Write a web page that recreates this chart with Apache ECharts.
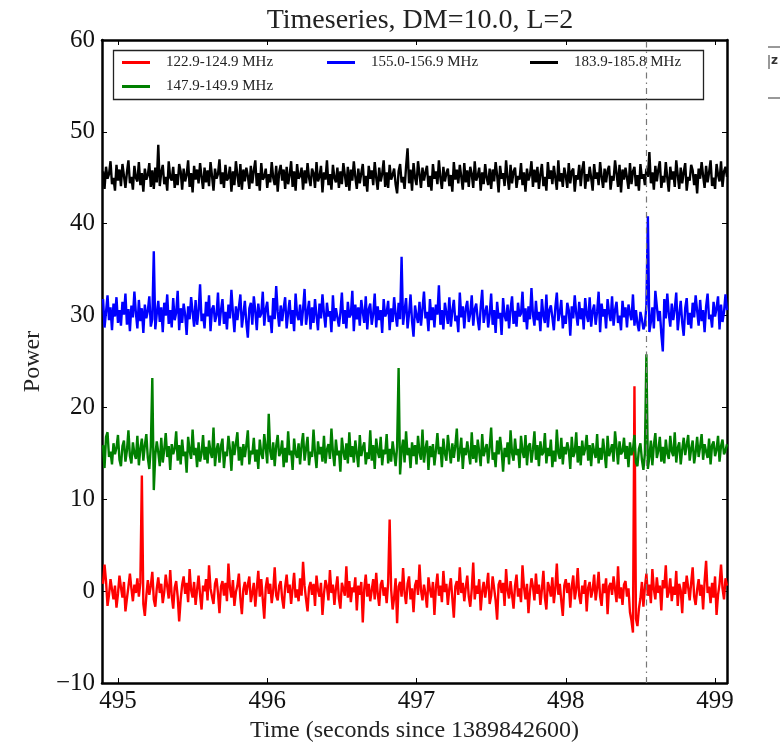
<!DOCTYPE html>
<html>
<head>
<meta charset="utf-8">
<script src="https://cdn.jsdelivr.net/npm/echarts@6/dist/echarts.min.js"></script>
<style>html,body{margin:0;padding:0;background:#fff}#c{width:780px;height:748px}</style>
</head>
<body>
<div id="c"></div>
<script>
// Sampling grid of the time series (seconds since 1389842600)
var SAMPLE_START = 494.90;
var SAMPLE_STEP = 0.01;
var xTicks = [495, 496, 497, 498, 499];
var yTicks = [-10, 0, 10, 20, 30, 40, 50, 60];
var seriesNames = ['122.9-124.9 MHz', '147.9-149.9 MHz', '155.0-156.9 MHz', '183.9-185.8 MHz'];
var seriesColors = ['#ff0000', '#008000', '#0000ff', '#000000'];
var eventTime = 498.537;

var red = [
0.8, 2.9, 1.1, -1.6, -0.4, 1.3, 0.2, -0.9, 0.6, -1.8,
-0.3, 1.7, 0.4, -0.7, 1.0, -2.2, -0.8, 0.5, 1.9, 0.3,
-1.1, 0.7, -0.2, 1.4, -0.6, 0.9, 12.6, -1.4, -2.7, -0.5,
1.2, -0.4, 0.6, 2.1, -0.9, -1.7, 0.3, 1.5, -0.2, 0.8,
-1.3, -0.1, 1.8, 0.5, -0.8, 2.3, -0.5, -1.9, 0.4, 1.1,
-0.6, -3.3, -0.9, 0.7, 1.6, -0.3, 0.9, -1.2, 2.4, 0.1,
-0.7, 1.0, -1.5, 0.2, 1.7, -0.4, -2.0, 0.6, 0.0, 1.3,
-1.0, 2.8, 0.3, -0.6, -1.4, 0.8, 1.4, -0.2, -2.4, 0.5,
1.1, -0.5, 0.9, -1.1, 3.0, 0.4, -0.7, 1.2, -1.6, -0.1,
0.6, 1.9, -0.8, -2.5, 0.2, 1.0, -0.4, 0.7, 1.6, -1.2,
-0.2, 0.9, -1.7, 0.3, 2.2, -0.6, 1.3, -0.9, -3.0, 0.4,
1.5, -0.3, 0.8, -1.3, 0.1, 2.6, -0.5, -1.0, 0.6, 1.1,
-0.8, -1.9, 0.5, 1.8, -0.2, 0.7, -1.4, 0.3, 2.0, -0.7,
0.2, -1.1, 1.4, -0.5, 3.2, 0.6, -0.9, -2.2, 0.4, 1.0,
-0.4, 0.8, -1.6, 1.7, 0.1, -0.6, 0.9, -2.6, -0.3, 1.2,
0.5, -1.0, 2.3, -0.2, 0.7, -1.5, 0.3, 1.6, -0.8, -1.9,
0.9, 0.2, -0.5, 2.7, -0.7, 1.1, -1.2, 0.4, -0.1, 1.5,
-2.1, 0.6, -0.4, 1.0, -3.4, 0.3, 1.8, -0.6, 0.8, -1.1,
0.1, 1.3, -0.9, 2.0, -0.3, -1.6, 0.7, 1.2, -0.5, 0.4,
-1.3, 0.9, 7.8, 0.2, -2.0, -0.7, 1.4, -3.5, 0.5, 1.0,
-0.6, 2.5, -0.2, -1.4, 0.8, 1.6, -0.9, 0.3, -2.3, 0.6,
1.2, -0.4, 2.9, 0.1, -1.0, 0.7, -0.3, -1.8, 1.5, 0.2,
-0.7, 1.0, -2.6, 0.4, 1.9, -0.5, 0.6, -1.2, 2.2, -0.1,
0.8, -1.5, 0.3, 1.4, -0.8, -2.9, 0.5, 1.1, -0.4, 2.6,
-0.2, 0.9, -1.1, 0.4, 1.7, -0.6, -1.7, 0.2, 3.1, -0.9,
0.6, -0.3, 1.3, -2.1, 0.0, 1.0, -0.7, 0.5, 2.0, -1.4,
-0.5, 1.6, 0.3, -1.0, -3.1, 0.7, 1.2, -0.2, 0.9, -1.6,
2.4, 0.1, -0.8, 1.1, -0.4, -1.9, 0.6, 1.8, -0.6, 0.3,
-1.2, 2.8, 0.4, -0.9, 0.8, -2.4, -0.1, 1.4, 0.5, -1.0,
1.9, -0.3, 0.7, -1.5, 0.2, 2.2, -0.7, -2.0, 1.0, 0.4,
-0.6, 1.5, -1.3, 0.3, 3.0, -0.4, 0.8, -1.1, -2.7, 0.6,
1.3, -0.2, 0.9, -1.8, 0.5, 1.7, -0.9, 0.2, 2.5, -0.5,
-1.4, 0.6, -0.3, 1.2, -2.2, 0.4, 1.0, -0.7, 0.1, 1.8,
-1.0, 0.3, 2.1, -0.6, -1.6, 0.8, -0.2, 1.4, -2.5, 0.5,
0.9, -0.4, 1.6, 0.2, -1.2, 2.7, -0.8, 0.4, -1.5, 0.7,
1.1, -0.6, 0.3, -2.3, -3.2, -4.5, 22.3, -3.0, -3.8, -1.9,
-0.8, 1.0, -1.7, 0.4, 1.9, -0.5, 0.7, -1.3, 2.4, 0.2,
-0.9, 1.5, -0.2, 0.6, -2.1, 1.2, 0.3, 2.8, -0.7, -0.1,
1.4, -1.1, 0.5, -0.4, 2.2, -1.6, 0.8, 0.1, -2.4, 1.0,
-0.3, 1.7, 0.4, -1.0, 0.9, 2.6, -0.6, -1.5, 0.2, 1.3,
-0.5, 0.7, -2.0, 1.1, 3.3, -0.2, 0.5, -1.3, 0.9, -0.7,
1.6, -2.6, -0.4, 0.8, 2.9, 0.3, -0.9, 1.4, 0.6
];
var green = [
15.9, 13.4, 16.8, 17.3, 14.6, 15.2, 13.8, 16.1, 14.9, 15.6,
17.0, 14.3, 13.6, 15.8, 16.4, 14.1, 15.3, 17.5, 14.7, 13.9,
16.2, 15.0, 14.4, 16.9, 13.7, 15.5, 16.6, 14.2, 15.9, 17.1,
14.5, 13.3, 15.7, 23.2, 11.0, 14.8, 16.3, 15.1, 13.6, 16.7,
14.0, 15.4, 17.2, 14.6, 15.8, 13.2, 16.0, 14.9, 15.5, 17.4,
14.2, 15.9, 13.8, 16.5, 14.7, 15.2, 12.9, 16.8, 15.3, 14.4,
17.6, 14.8, 15.6, 13.5, 16.2, 14.1, 15.0, 17.0, 14.3, 15.7,
13.9, 16.4, 15.1, 14.5, 17.8, 13.6, 15.4, 16.1, 14.0, 15.8,
16.6, 13.4, 15.2, 14.7, 16.9, 15.5, 13.1, 16.3, 14.8, 15.0,
17.3, 14.2, 15.7, 13.7, 16.0, 14.6, 15.9, 17.5, 13.8, 15.3,
14.9, 16.7, 14.1, 15.4, 13.3, 16.5, 15.0, 14.4, 17.1, 15.6,
13.9, 19.3, 15.2, 14.3, 16.2, 13.6, 15.8, 17.0, 14.7, 15.1,
16.4, 13.5, 15.6, 14.0, 17.4, 14.8, 15.3, 13.2, 16.6, 15.0,
14.5, 16.1, 13.8, 15.9, 17.2, 14.2, 15.5, 16.8, 13.7, 15.2,
14.6, 17.6, 15.0, 13.4, 16.3, 14.9, 15.7, 14.1, 16.9, 13.9,
15.4, 16.0, 14.4, 17.7, 15.1, 13.6, 16.5, 14.8, 15.3, 13.0,
16.7, 15.2, 14.3, 16.1, 13.9, 17.3, 14.6, 15.8, 14.0, 16.4,
15.0, 13.5, 17.0, 14.7, 15.6, 16.2, 13.8, 15.1, 14.4, 17.5,
14.2, 15.9, 13.3, 16.6, 15.2, 14.5, 16.8, 13.7, 15.4, 14.9,
17.1, 13.9, 15.5, 14.1, 16.3, 15.0, 13.6, 15.7, 24.3, 12.7,
15.3, 16.5, 14.0, 17.4, 14.8, 15.6, 13.4, 16.2, 14.7, 15.9,
13.8, 16.9, 15.1, 14.3, 17.6, 14.0, 15.5, 16.4, 13.2, 15.8,
14.6, 16.0, 13.7, 15.3, 17.2, 14.9, 15.7, 13.5, 16.6, 15.0,
14.2, 17.0, 15.4, 13.9, 16.1, 14.5, 15.8, 17.7, 14.1, 15.2,
16.7, 13.3, 15.6, 14.8, 16.3, 15.0, 13.8, 17.3, 14.4, 15.9,
14.0, 16.5, 15.2, 13.6, 17.1, 14.7, 15.4, 16.0, 13.9, 15.7,
17.8, 14.3, 15.1, 13.5, 16.4, 14.9, 16.8, 15.3, 13.0, 15.6,
14.6, 16.2, 13.8, 17.5, 15.0, 14.2, 16.6, 14.8, 15.5, 13.4,
16.9, 15.2, 14.5, 17.0, 13.7, 15.8, 16.1, 14.0, 15.4, 17.4,
14.3, 15.9, 13.6, 16.3, 14.8, 15.1, 17.2, 13.9, 15.6, 14.7,
16.5, 13.5, 15.3, 14.1, 17.6, 15.0, 14.4, 16.7, 13.8, 15.7,
14.9, 16.2, 15.4, 13.3, 16.8, 14.6, 15.1, 17.3, 14.0, 15.8,
13.7, 16.4, 14.8, 15.5, 17.0, 14.2, 15.9, 13.6, 16.1, 15.2,
14.5, 17.1, 13.9, 15.6, 14.3, 16.6, 15.0, 13.4, 16.9, 14.7,
15.3, 16.0, 14.1, 17.4, 15.7, 13.8, 16.3, 14.9, 15.2, 16.7,
14.4, 15.8, 13.5, 16.2, 14.8, 15.4, 17.0, 14.0, 13.6, 15.5,
16.1, 14.3, 13.2, 15.0, 25.8, 13.3, 14.6, 16.4, 13.7, 15.9,
17.2, 14.5, 15.3, 16.8, 14.1, 15.7, 13.9, 16.5, 15.0, 14.4,
16.9, 15.2, 14.7, 17.3, 14.0, 15.6, 16.2, 13.8, 15.4, 16.7,
14.8, 15.9, 17.0, 14.2, 15.5, 16.4, 13.9, 15.1, 16.8, 14.6,
15.7, 17.1, 14.3, 16.0, 15.2, 14.5, 16.6, 13.8, 15.9, 16.3,
14.7, 15.4, 16.9, 14.1, 15.8, 16.5, 14.9, 15.3, 16.0
];
var blue = [
31.8, 28.7, 30.4, 32.2, 29.5, 30.9, 28.4, 31.3, 29.9, 32.0,
29.2, 30.6, 28.9, 31.5, 30.1, 32.4, 29.0, 30.7, 28.3, 31.1,
29.8, 32.6, 30.3, 28.6, 31.7, 29.4, 30.8, 28.1, 31.2, 29.7,
30.5, 32.1, 28.8, 29.6, 37.0, 28.5, 30.2, 31.6, 29.3, 30.9,
28.2, 31.4, 30.0, 32.3, 29.1, 30.6, 28.7, 31.9, 29.5, 30.3,
32.7, 28.4, 30.8, 29.2, 31.3, 30.1, 27.9, 31.0, 29.6, 32.0,
30.4, 28.8, 31.7, 29.0, 30.5, 33.4, 29.4, 30.2, 28.6, 31.5,
29.9, 32.2, 28.3, 30.7, 31.1, 29.3, 30.0, 32.5, 28.9, 30.6,
31.8, 29.1, 30.4, 28.5, 31.2, 29.7, 32.8, 30.3, 28.2, 31.0,
29.5, 30.9, 32.3, 28.7, 30.1, 31.6, 29.2, 27.6, 30.8, 31.4,
29.0, 32.1, 30.5, 28.4, 31.3, 29.8, 30.2, 32.6, 28.9, 30.7,
31.5, 29.3, 30.0, 28.1, 31.9, 29.6, 33.2, 30.4, 28.8, 31.1,
29.4, 30.8, 32.0, 28.6, 30.3, 31.7, 29.1, 30.6, 28.3, 32.4,
30.1, 29.5, 31.2, 28.9, 30.7, 32.9, 29.0, 30.4, 31.6, 28.5,
30.9, 29.2, 31.8, 30.0, 28.4, 31.3, 29.7, 32.3, 30.2, 28.7,
31.4, 29.9, 30.5, 28.2, 32.2, 29.4, 30.8, 31.0, 28.8, 30.3,
32.5, 29.1, 30.6, 28.6, 31.5, 29.8, 30.1, 32.7, 28.3, 31.2,
29.6, 30.9, 28.9, 31.7, 30.4, 29.2, 32.1, 28.5, 30.7, 31.3,
29.0, 30.2, 32.4, 28.7, 31.0, 29.5, 30.6, 28.1, 31.8, 29.9,
30.3, 31.6, 28.4, 30.8, 29.3, 32.0, 30.1, 28.8, 31.4, 29.6,
36.4, 29.0, 30.5, 31.9, 28.6, 30.2, 32.3, 29.4, 27.7, 31.1,
30.0, 29.2, 31.5, 28.9, 30.7, 32.6, 29.7, 30.4, 28.3, 31.8,
29.5, 30.9, 28.7, 31.2, 30.1, 33.3, 29.0, 30.6, 28.5, 31.4,
30.3, 29.1, 32.0, 28.8, 30.5, 31.7, 29.4, 30.0, 28.2, 32.5,
29.8, 31.0, 28.6, 30.8, 31.6, 29.3, 30.2, 32.2, 28.9, 30.7,
31.3, 29.6, 28.4, 30.9, 32.8, 29.2, 30.4, 31.1, 28.7, 30.1,
32.4, 29.0, 30.6, 28.1, 31.5, 29.7, 30.3, 27.9, 31.9, 30.0,
29.4, 31.2, 28.6, 30.7, 32.1, 29.1, 30.5, 28.8, 31.4, 29.9,
30.2, 32.6, 29.3, 30.8, 28.5, 31.0, 29.6, 33.0, 30.1, 28.9,
31.6, 29.5, 30.4, 28.3, 31.8, 30.0, 29.2, 32.3, 28.7, 30.6,
31.1, 29.8, 28.4, 30.9, 32.5, 29.4, 30.3, 31.7, 28.6, 30.0,
29.1, 31.4, 30.6, 27.8, 31.0, 29.7, 32.2, 30.2, 28.9, 31.5,
29.6, 30.8, 28.5, 31.9, 30.1, 29.3, 32.0, 28.8, 30.5, 31.2,
29.0, 30.4, 32.6, 28.2, 31.3, 29.9, 30.7, 28.6, 31.8, 30.3,
29.4, 32.1, 28.9, 30.6, 31.5, 29.2, 30.0, 28.4, 31.6, 29.8,
30.9, 28.7, 31.2, 30.2, 29.5, 32.3, 28.9, 30.6, 29.1, 28.3,
30.4, 29.6, 28.5, 29.0, 31.1, 40.8, 28.2, 29.3, 30.9, 28.6,
32.7, 31.0, 29.4, 30.5, 28.0, 26.1, 31.8, 29.7, 32.4, 30.2,
28.8, 31.3, 29.5, 30.7, 32.5, 28.4, 30.1, 31.6, 29.2, 27.8,
30.8, 31.9, 29.0, 30.3, 28.6, 31.4, 29.8, 32.2, 30.5, 28.9,
31.7, 29.4, 30.6, 28.2, 31.0, 32.4, 29.6, 30.1, 28.7, 31.5,
29.9, 30.8, 32.1, 28.5, 31.2, 29.3, 30.4, 32.3, 30.6
];
var black = [
45.7, 43.8, 46.2, 44.9, 45.4, 46.8, 44.3, 45.0, 43.6, 46.4,
44.7, 45.9, 44.1, 46.5, 45.2, 43.9, 45.6, 46.9, 44.4, 45.1,
43.7, 46.3, 45.0, 44.6, 46.7, 44.2, 45.5, 43.5, 46.0, 44.8,
45.3, 46.6, 44.0, 45.8, 43.8, 46.1, 44.5, 48.6, 44.1, 45.6,
46.4, 44.3, 45.1, 43.6, 46.8, 45.0, 44.7, 46.2, 43.9, 45.4,
44.2, 46.5, 45.7, 43.7, 46.0, 44.6, 45.3, 46.9, 44.0, 45.5,
43.4, 46.3, 44.8, 45.9, 44.4, 46.6, 45.1, 43.8, 46.1, 44.5,
45.8, 44.1, 46.7, 45.2, 43.6, 46.0, 44.9, 45.4, 47.0, 44.3,
45.6, 43.9, 46.4, 44.7, 45.0, 46.2, 43.5, 45.7, 44.2, 46.8,
45.3, 44.0, 46.5, 43.7, 45.9, 44.6, 46.1, 45.2, 43.8, 46.3,
44.4, 45.8, 46.9, 44.1, 45.5, 43.6, 46.6, 44.8, 45.1, 46.0,
43.9, 45.4, 44.5, 46.7, 45.0, 44.2, 46.3, 43.5, 45.6, 46.4,
44.7, 45.9, 43.8, 46.2, 44.3, 45.3, 46.8, 44.0, 45.7, 43.6,
46.5, 44.9, 45.2, 46.1, 43.7, 45.8, 44.4, 46.6, 45.0, 44.1,
46.0, 45.5, 43.9, 46.7, 44.6, 45.1, 46.3, 43.4, 45.6, 44.8,
46.9, 44.2, 45.4, 43.7, 46.4, 45.0, 44.5, 46.1, 43.9, 45.7,
44.3, 46.6, 45.3, 44.0, 46.2, 43.6, 45.9, 44.7, 46.8, 45.1,
43.8, 46.0, 44.4, 45.5, 46.5, 44.1, 45.2, 43.5, 46.3, 44.9,
45.8, 44.2, 46.7, 45.0, 43.7, 46.1, 44.6, 45.4, 46.9, 44.0,
45.6, 43.9, 46.4, 44.8, 45.3, 46.0, 44.3, 43.3, 45.7, 46.5,
44.5, 45.1, 43.8, 46.2, 48.2, 44.4, 45.9, 43.6, 46.6, 45.0,
44.2, 46.8, 45.4, 43.9, 46.1, 44.7, 45.6, 46.3, 44.0, 45.2,
43.6, 46.5, 44.9, 45.7, 44.3, 46.9, 45.0, 43.8, 46.2, 44.6,
45.5, 46.0, 44.1, 45.3, 43.5, 46.7, 44.8, 45.9, 44.4, 46.4,
45.1, 43.7, 46.6, 44.5, 45.8, 44.0, 46.2, 45.4, 43.9, 46.8,
44.7, 45.2, 46.1, 43.6, 45.6, 44.3, 46.5, 45.0, 44.2, 46.0,
43.8, 45.9, 44.6, 46.7, 45.3, 43.4, 46.3, 44.9, 45.5, 44.1,
46.9, 45.0, 43.7, 46.4, 44.4, 45.7, 46.1, 43.9, 45.2, 44.8,
46.6, 44.2, 45.6, 43.5, 46.0, 44.7, 45.3, 46.8, 44.0, 45.9,
44.5, 46.2, 43.8, 45.4, 46.5, 44.1, 45.1, 43.6, 46.7, 44.9,
45.8, 44.3, 46.3, 45.0, 43.7, 46.9, 44.6, 45.5, 44.0, 46.1,
45.2, 43.9, 46.6, 44.4, 45.7, 46.0, 43.5, 45.3, 44.8, 46.4,
44.1, 45.9, 46.8, 43.8, 45.4, 44.6, 46.2, 45.0, 43.6, 46.5,
44.9, 45.6, 44.2, 46.7, 45.1, 43.9, 46.0, 44.5, 45.8, 46.3,
43.7, 45.2, 44.7, 46.9, 45.5, 44.0, 46.4, 43.4, 45.9, 44.8,
46.1, 45.0, 43.8, 46.6, 44.3, 45.7, 46.2, 44.1, 45.3, 43.6,
46.5, 44.9, 45.4, 44.2, 46.0, 45.1, 47.8, 44.4, 45.6, 43.7,
46.3, 44.6, 45.9, 46.8, 43.9, 45.2, 44.5, 46.7, 45.0, 43.5,
46.2, 44.8, 45.7, 44.0, 46.9, 45.3, 43.8, 46.1, 44.4, 45.6,
46.6, 43.6, 45.1, 44.7, 46.4, 45.8, 44.2, 45.4, 43.3, 46.0,
44.9, 46.7, 45.2, 43.9, 46.3, 44.5, 45.6, 46.9, 44.1, 45.0,
43.8, 46.5, 45.3, 44.6, 46.8, 44.0, 45.7, 46.2, 45.1
];
var seriesValues = [red, green, blue, black];

function pairs(vals) {
  var out = [];
  for (var i = 0; i < vals.length; i++) {
    out.push([+(SAMPLE_START + i * SAMPLE_STEP).toFixed(3), vals[i]]);
  }
  return out;
}

var chart = echarts.init(document.getElementById('c'), null, {renderer: 'canvas'});
var SERIF = "'Liberation Serif', 'DejaVu Serif', serif";
var axisLineStyle = {show: true, onZero: false, lineStyle: {color: '#000', width: 2.5}};
var tickStyle = {color: '#000', width: 1};

var series = seriesValues.map(function (vals, k) {
  var s = {
    name: seriesNames[k],
    type: 'line',
    data: pairs(vals),
    showSymbol: false,
    symbol: 'none',
    lineStyle: {color: seriesColors[k], width: 2.4},
    itemStyle: {color: seriesColors[k]},
    animation: false,
    z: 3
  };
  if (k === 0) {
    s.markLine = {
      silent: true,
      symbol: 'none',
      label: {show: false},
      lineStyle: {color: '#777', width: 1.2, type: [6, 4, 1.5, 4]},
      data: [{xAxis: eventTime}],
      animation: false
    };
  }
  return s;
});

function legendAt(k, left, top) {
  return {
    data: [seriesNames[k]],
    left: left, top: top, padding: 0,
    icon: 'rect', itemWidth: 28, itemHeight: 3,
    selectedMode: false,
    textStyle: {fontFamily: SERIF, fontSize: 15, color: '#222', padding: [0, 0, 0, 11]},
    z: 10
  };
}

chart.setOption({
  backgroundColor: '#fff',
  animation: false,
  title: {
    text: 'Timeseries, DM=10.0, L=2',
    left: 415, top: 2, textAlign: 'center',
    textStyle: {fontFamily: SERIF, fontSize: 28, fontWeight: 'normal', color: '#222'}
  },
  grid: {left: 102, right: 53, top: 40, bottom: 65, containLabel: false},
  legend: [
    legendAt(0, 122, 55),
    legendAt(2, 327, 55),
    legendAt(3, 530, 55),
    legendAt(1, 122, 79)
  ],
  xAxis: [{
    type: 'value', position: 'bottom',
    min: 494.893, max: 499.08,
    axisLine: axisLineStyle,
    axisTick: {show: true, inside: true, length: 5, customValues: xTicks, lineStyle: tickStyle},
    axisLabel: {customValues: xTicks, fontFamily: SERIF, fontSize: 25, color: '#111', margin: 6,
      formatter: function (v) { return String(Math.round(v)); }},
    splitLine: {show: false},
    name: 'Time (seconds since 1389842600)', nameLocation: 'middle', nameGap: 34,
    nameTextStyle: {fontFamily: SERIF, fontSize: 24, color: '#222'}
  }, {
    type: 'value', position: 'top',
    min: 494.893, max: 499.08,
    axisLine: axisLineStyle,
    axisTick: {show: true, inside: true, length: 5, customValues: xTicks, lineStyle: tickStyle},
    axisLabel: {show: false},
    splitLine: {show: false}
  }],
  yAxis: [{
    type: 'value', position: 'left',
    min: -10, max: 60, interval: 10,
    axisLine: axisLineStyle,
    axisTick: {show: true, inside: true, length: 5, lineStyle: tickStyle},
    axisLabel: {fontFamily: SERIF, fontSize: 25, color: '#111', margin: 7,
      formatter: function (v) { return String(v).replace('-', '\u2212'); }},
    splitLine: {show: false},
    name: 'Power', nameLocation: 'middle', nameGap: 56, nameRotate: 90,
    nameTextStyle: {fontFamily: SERIF, fontSize: 24, color: '#222'}
  }, {
    type: 'value', position: 'right',
    min: -10, max: 60, interval: 10,
    axisLine: axisLineStyle,
    axisTick: {show: true, inside: true, length: 5, lineStyle: tickStyle},
    axisLabel: {show: false},
    splitLine: {show: false}
  }],
  graphic: [
    {type: 'rect', shape: {x: 113.5, y: 50.5, width: 590, height: 49}, style: {fill: '#fff', stroke: '#222', lineWidth: 1.3}, z: 5},
    {type: 'line', shape: {x1: 768, y1: 47, x2: 780, y2: 47}, style: {stroke: '#333', lineWidth: 1}, z: 5},
    {type: 'line', shape: {x1: 768, y1: 98, x2: 780, y2: 98}, style: {stroke: '#333', lineWidth: 1}, z: 5},
    {type: 'line', shape: {x1: 769, y1: 55, x2: 769, y2: 69}, style: {stroke: '#333', lineWidth: 1}, z: 5},
    {type: 'text', x: 771, y: 55, style: {text: 'z', fontFamily: "'DejaVu Sans', sans-serif", fontSize: 12, fontWeight: 'bold', fill: '#333'}, z: 5}
  ],
  series: series
});
</script>
</body>
</html>
